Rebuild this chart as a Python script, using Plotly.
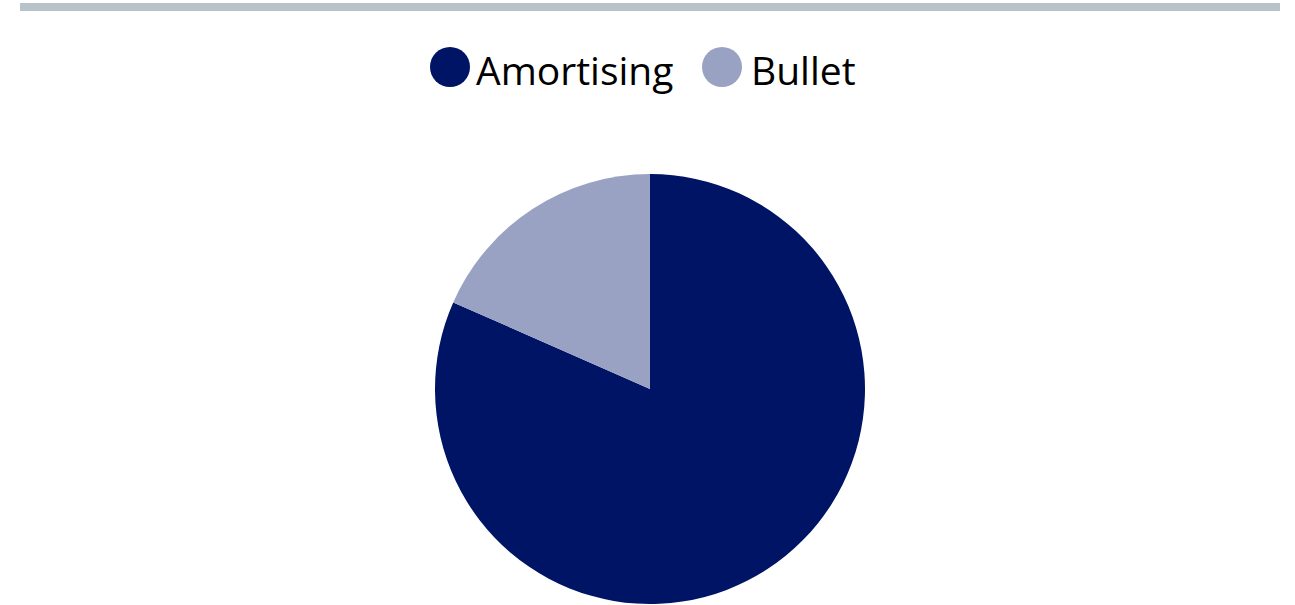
import plotly.graph_objects as go

labels = ["Amortising", "Bullet"]
values = [81.6, 18.4]
colors = ["#001466", "#99a2c3"]

W, H = 1295, 605

fig = go.Figure()
fig.add_trace(go.Pie(
    labels=labels, values=values, sort=False, direction="clockwise", rotation=0,
    marker=dict(colors=colors, line=dict(width=0)),
    textinfo="none", hoverinfo="label+percent", showlegend=False,
    domain=dict(x=[5 / W, 1], y=[1 / H, 431 / H]),
))

def px(x):
    return x / W

def py(y):
    return 1 - y / H

shapes = [dict(type="rect", xref="paper", yref="paper",
               x0=px(20), x1=px(1280), y0=py(11), y1=py(3),
               fillcolor="#b8c2c9", line=dict(width=0))]
annotations = []
legend_x = [450, 722]
text_x = [474, 749]
for lab, col, cx, tx in zip(labels, colors, legend_x, text_x):
    shapes.append(dict(type="circle", xref="paper", yref="paper",
                       xsizemode="pixel", ysizemode="pixel",
                       xanchor=px(cx), yanchor=py(67),
                       x0=-20, x1=20, y0=-20, y1=20,
                       fillcolor=col, line=dict(width=0)))
    annotations.append(dict(text=lab, xref="paper", yref="paper",
                            x=px(tx), y=py(69), xanchor="left", yanchor="middle",
                            showarrow=False,
                            font=dict(family="Open Sans", size=39, color="#000000")))

fig.update_layout(
    width=W, height=H, margin=dict(l=0, r=0, t=0, b=0),
    paper_bgcolor="white", plot_bgcolor="white",
    shapes=shapes, annotations=annotations,
)
fig.write_html("out.html")
